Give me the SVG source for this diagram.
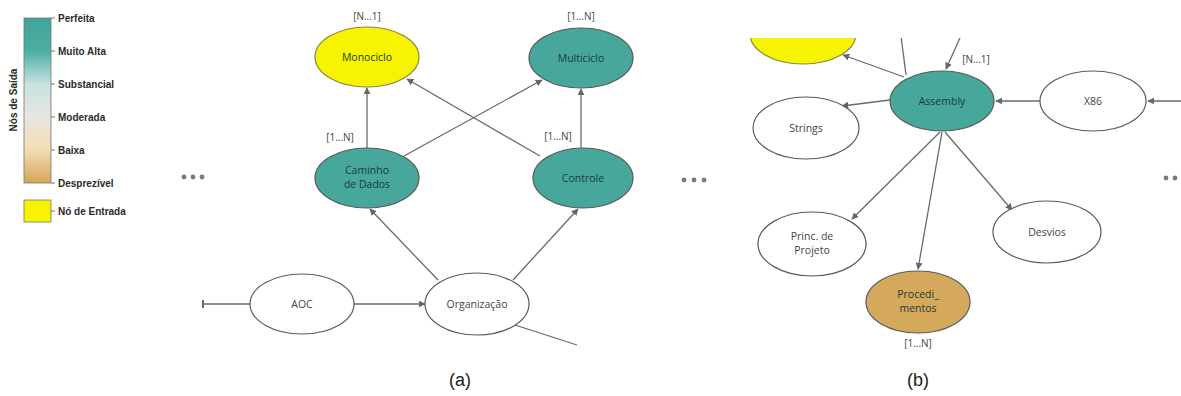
<svg xmlns="http://www.w3.org/2000/svg" width="1181" height="396" viewBox="0 0 1181 396">
  <defs>
    <linearGradient id="scale" x1="0" y1="0" x2="0" y2="1">
      <stop offset="0" stop-color="#3fa596"/>
      <stop offset="0.2" stop-color="#4caea1"/>
      <stop offset="0.4" stop-color="#c6e3e2"/>
      <stop offset="0.6" stop-color="#e9e5e0"/>
      <stop offset="0.8" stop-color="#f2dcb3"/>
      <stop offset="1" stop-color="#d4a658"/>
    </linearGradient>
    <marker id="arr" viewBox="0 0 10 10" refX="9" refY="5" markerWidth="7" markerHeight="7" markerUnits="userSpaceOnUse" orient="auto">
      <path d="M0,0 L10,5 L0,10 z" fill="#666"/>
    </marker>
    <clipPath id="topcut">
      <rect x="700" y="38" width="481" height="358"/>
    </clipPath>
  </defs>
  <style>
    .bg { fill: #ffffff; }
    .edge { stroke: #6a6a6a; stroke-width: 1.3; fill: none; }
    .arrow { marker-end: url(#arr); }
    .node { stroke: #5a5a5a; stroke-width: 1.2; }
    .teal { fill: #46a79a; }
    .plain { fill: #ffffff; }
    .input { fill: #f6f400; stroke: #8a8740; }
    .low { fill: #d5a95c; }
    .lbl { font-family: "Open Sans", "Liberation Sans", sans-serif; font-size: 10.5px; text-anchor: middle; }
    .dark { fill: #1c3c3a; }
    .grey { fill: #444; }
    .card { font-family: "Open Sans", "Liberation Sans", sans-serif; font-size: 10px; fill: #444; text-anchor: middle; }
    .legend { font-family: "Liberation Sans", Arial, sans-serif; font-size: 10px; font-weight: bold; fill: #2a2a2a; }
    .caption { font-family: "Liberation Sans", Arial, sans-serif; font-size: 18px; fill: #222; text-anchor: middle; }
    .dot { fill: #7a7a7a; }
  </style>

  <rect class="bg" x="0" y="0" width="1181" height="396"/>

  <!-- legend: output-node scale and input-node swatch -->
  <g id="legend">
    <rect x="24" y="18" width="27" height="165" fill="url(#scale)" stroke="#777" stroke-width="0.8"/>
    <g stroke="#777" stroke-width="1">
      <line x1="51" y1="18" x2="55" y2="18"/>
      <line x1="51" y1="51" x2="55" y2="51"/>
      <line x1="51" y1="84" x2="55" y2="84"/>
      <line x1="51" y1="117" x2="55" y2="117"/>
      <line x1="51" y1="150" x2="55" y2="150"/>
      <line x1="51" y1="183" x2="55" y2="183"/>
      <line x1="51" y1="211" x2="55" y2="211"/>
    </g>
    <text class="legend" x="58" y="21.5">Perfeita</text>
    <text class="legend" x="58" y="55">Muito Alta</text>
    <text class="legend" x="58" y="88">Substancial</text>
    <text class="legend" x="58" y="121">Moderada</text>
    <text class="legend" x="58" y="154">Baixa</text>
    <text class="legend" x="58" y="187">Desprezível</text>
    <text class="legend" x="16.5" y="100" transform="rotate(-90 16.5 100)" text-anchor="middle">Nós de Saída</text>
    <rect x="24" y="200" width="27" height="22" fill="#f6f400" stroke="#777" stroke-width="0.8"/>
    <text class="legend" x="58" y="215">Nó de Entrada</text>
  </g>

  <!-- ellipsis markers -->
  <g id="ellipses">
    <circle class="dot" cx="184" cy="177" r="2.4"/>
    <circle class="dot" cx="193" cy="177" r="2.4"/>
    <circle class="dot" cx="202" cy="177" r="2.4"/>
    <circle class="dot" cx="684" cy="180" r="2.4"/>
    <circle class="dot" cx="694" cy="180" r="2.4"/>
    <circle class="dot" cx="704" cy="180" r="2.4"/>
    <circle class="dot" cx="1166" cy="178" r="2.4"/>
    <circle class="dot" cx="1175" cy="178" r="2.4"/>
    <circle class="dot" cx="1184" cy="178" r="2.4"/>
  </g>

  <!-- connectors -->
  <g id="connectors">
    <!-- network (a) -->
    <line class="edge arrow" x1="367" y1="148" x2="367" y2="88"/>
    <line class="edge arrow" x1="581" y1="148" x2="581" y2="89"/>
    <line class="edge arrow" x1="404" y1="156" x2="542" y2="80"/>
    <line class="edge arrow" x1="540" y1="156" x2="407" y2="79"/>
    <line class="edge arrow" x1="438" y1="280" x2="370" y2="209"/>
    <line class="edge arrow" x1="513" y1="280" x2="578" y2="209"/>
    <line class="edge arrow" x1="354" y1="304" x2="425" y2="304"/>
    <line class="edge" x1="203" y1="304" x2="250" y2="304"/>
    <line x1="203" y1="300" x2="203" y2="308" stroke="#666" stroke-width="2"/>
    <line class="edge" x1="515" y1="325" x2="577" y2="345"/>
    <!-- network (b) -->
    <g clip-path="url(#topcut)">
      <line class="edge" x1="906" y1="75" x2="899" y2="20"/>
      <line class="edge arrow" x1="968" y1="20" x2="946" y2="69"/>
    </g>
    <line class="edge arrow" x1="904" y1="77" x2="843" y2="55"/>
    <line class="edge arrow" x1="890" y1="100" x2="842" y2="106"/>
    <line class="edge arrow" x1="1040" y1="101" x2="996" y2="101"/>
    <line class="edge arrow" x1="1181" y1="101" x2="1148" y2="101"/>
    <line class="edge arrow" x1="940" y1="132" x2="852" y2="219"/>
    <line class="edge arrow" x1="942" y1="132" x2="918" y2="269"/>
    <line class="edge arrow" x1="945" y1="132" x2="1012" y2="210"/>
  </g>

  <!-- network (a) nodes -->
  <g id="monociclo">
    <ellipse class="node input" cx="367" cy="57" rx="52" ry="30"/>
    <text class="lbl dark" x="367" y="61">Monociclo</text>
    <text class="card" x="367" y="20">[N...1]</text>
  </g>
  <g id="multiciclo">
    <ellipse class="node teal" cx="581" cy="58" rx="52" ry="30"/>
    <text class="lbl dark" x="581" y="62">Multiciclo</text>
    <text class="card" x="581" y="20">[1...N]</text>
  </g>
  <g id="caminho-de-dados">
    <ellipse class="node teal" cx="367" cy="178" rx="52" ry="30"/>
    <text class="lbl dark" x="367" y="174">Caminho</text>
    <text class="lbl dark" x="367" y="188">de Dados</text>
    <text class="card" x="340" y="141">[1...N]</text>
  </g>
  <g id="controle">
    <ellipse class="node teal" cx="583" cy="178" rx="50" ry="30"/>
    <text class="lbl dark" x="583" y="182">Controle</text>
    <text class="card" x="558" y="140">[1...N]</text>
  </g>
  <g id="aoc">
    <ellipse class="node plain" cx="302" cy="304" rx="52" ry="30"/>
    <text class="lbl grey" x="302" y="308">AOC</text>
  </g>
  <g id="organizacao">
    <ellipse class="node plain" cx="477" cy="304" rx="52" ry="31"/>
    <text class="lbl grey" x="477" y="308">Organização</text>
  </g>
  <text class="caption" x="460" y="386">(a)</text>

  <!-- network (b) nodes -->
  <g id="entrada-b">
    <g clip-path="url(#topcut)">
      <ellipse class="node input" cx="803" cy="34" rx="53" ry="30"/>
    </g>
  </g>
  <g id="assembly">
    <ellipse class="node teal" cx="942" cy="101" rx="52" ry="30"/>
    <text class="lbl dark" x="942" y="105">Assembly</text>
    <text class="card" x="976" y="63">[N...1]</text>
  </g>
  <g id="x86">
    <ellipse class="node plain" cx="1093" cy="101" rx="53" ry="30"/>
    <text class="lbl grey" x="1093" y="105">X86</text>
  </g>
  <g id="strings">
    <ellipse class="node plain" cx="806" cy="128" rx="53" ry="31"/>
    <text class="lbl grey" x="806" y="132">Strings</text>
  </g>
  <g id="princ-de-projeto">
    <ellipse class="node plain" cx="812" cy="244" rx="54" ry="32"/>
    <text class="lbl grey" x="812" y="240">Princ. de</text>
    <text class="lbl grey" x="812" y="254">Projeto</text>
  </g>
  <g id="procedimentos">
    <ellipse class="node low" cx="918" cy="302" rx="52" ry="31"/>
    <text class="lbl dark" x="918" y="298">Procedi_</text>
    <text class="lbl dark" x="918" y="312">mentos</text>
    <text class="card" x="918" y="347">[1...N]</text>
  </g>
  <g id="desvios">
    <ellipse class="node plain" cx="1047" cy="232" rx="54" ry="31"/>
    <text class="lbl grey" x="1047" y="236">Desvios</text>
  </g>
  <text class="caption" x="918" y="386">(b)</text>
</svg>
